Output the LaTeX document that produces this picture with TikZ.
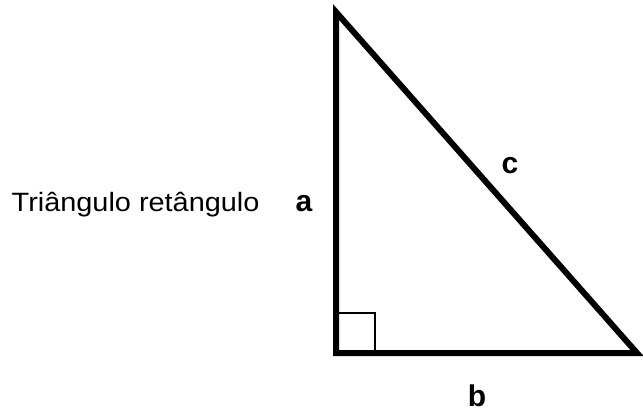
\documentclass[tikz,border=0pt]{standalone}
\usepackage{fontspec}
\setmainfont{Liberation Sans}
\begin{document}
\begin{tikzpicture}[x=1pt,y=-1pt,
  side/.style={line width=6pt,line join=miter,miter limit=10},
  rightmark/.style={line width=1.3pt},
  lbl/.style={inner sep=0pt,font=\fontsize{30}{32}\selectfont\bfseries},
  caption/.style={inner sep=0pt,anchor=base west,font=\fontsize{26.5}{30}\selectfont}]
\useasboundingbox (0,0) rectangle (643,412);
\coordinate (A) at (336,12);
\coordinate (B) at (336,353);
\coordinate (C) at (637,353);
\draw[side] (A) -- (B) -- (C) -- cycle;
\coordinate (s1) at (339,313);
\coordinate (s2) at (375,313);
\coordinate (s3) at (375,350);
\draw[rightmark] (s1) -- (s2) -- (s3);
\node[caption] (t) at (11.5,211.5) {\scalebox{1.09}[1]{Triângulo retângulo}};
\node[lbl] (a) at (304,204) {a};
\node[lbl] (c) at (510,166) {c};
\node[lbl] (b) at (477,396) {b};
\end{tikzpicture}
\end{document}
